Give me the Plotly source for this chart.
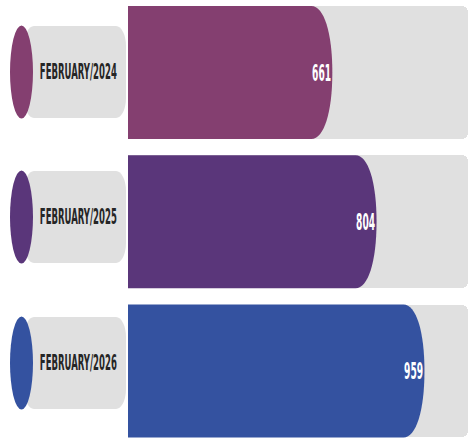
import plotly.graph_objects as go

# ---- data ----
categories = ["FEBRUARY/2024", "FEBRUARY/2025", "FEBRUARY/2026"]
values = [661, 804, 959]
colors = ["#843F70", "#5A367A", "#3452A0"]
track_max = 1100

# ---- geometry / style ----
W, H = 469, 438
x_range = [0, 1103]
plot_left = 128
px_per_unit = (W - plot_left) / (x_range[1] - x_range[0])
y_pos = [-i for i in range(len(categories))]
y_range = [-2.449, 0.486]
bar_w = 0.891
half = bar_w / 2
cap = 21 / px_per_unit          # horizontal radius of the rounded end (data units)
k = 0.60                        # bezier factor for the rounded end

label_centers_px = [72, 217, 363]
font_narrow = "DejaVu Sans Condensed, DejaVu Sans, sans-serif"

fig = go.Figure()

# background tracks
fig.add_trace(go.Bar(
    x=[track_max] * len(categories), y=y_pos, orientation="h", width=bar_w,
    marker=dict(color="#E0E0E0", cornerradius=6, line=dict(width=0)),
    hoverinfo="skip", showlegend=False,
))


def px(xp):
    return xp / W


def py(yp):
    return 1 - yp / H


shapes = []
annotations = []
for cat, v, c, yc, lc in zip(categories, values, colors, y_pos, label_centers_px):
    top, bot = yc + half, yc - half
    xs = v - cap
    path = (f"M 0,{top} L {xs},{top} "
            f"C {xs + k * cap},{top} {v},{yc + k * half} {v},{yc} "
            f"C {v},{yc - k * half} {xs + k * cap},{bot} {xs},{bot} "
            f"L 0,{bot} Z")
    shapes.append(dict(type="path", xref="x", yref="y", path=path,
                       fillcolor=c, line=dict(width=0), layer="above"))
    annotations.append(dict(x=v, y=yc, xref="x", yref="y", text=str(v),
                            showarrow=False, xanchor="center", yanchor="middle",
                            xshift=-11,
                            font=dict(family=font_narrow, size=23, color="white",
                                      weight="bold")))

    # left label: pill + colored ellipse + text (pixel layout -> paper coords)
    x0, x1 = 24, 126
    t, b = lc - 46, lc + 46
    rx, ry = 10, 20
    pill = (f"M {px(x0 + rx)},{py(t)} L {px(x1 - rx)},{py(t)} "
            f"C {px(x1 - rx * 0.45)},{py(t)} {px(x1)},{py(t + ry * 0.45)} {px(x1)},{py(t + ry)} "
            f"L {px(x1)},{py(b - ry)} "
            f"C {px(x1)},{py(b - ry * 0.45)} {px(x1 - rx * 0.45)},{py(b)} {px(x1 - rx)},{py(b)} "
            f"L {px(x0 + rx)},{py(b)} "
            f"C {px(x0 + rx * 0.45)},{py(b)} {px(x0)},{py(b - ry * 0.45)} {px(x0)},{py(b - ry)} "
            f"L {px(x0)},{py(t + ry)} "
            f"C {px(x0)},{py(t + ry * 0.45)} {px(x0 + rx * 0.45)},{py(t)} {px(x0 + rx)},{py(t)} Z")
    shapes.append(dict(type="path", xref="paper", yref="paper", path=pill,
                       fillcolor="#E0E0E0", line=dict(width=0), layer="above"))
    shapes.append(dict(type="circle", xref="paper", yref="paper",
                       x0=px(10), x1=px(33), y0=py(lc + 46.5), y1=py(lc - 46.5),
                       fillcolor=c, line=dict(width=0), layer="above"))
    annotations.append(dict(x=px(78.5), y=py(lc), xref="paper", yref="paper",
                            text=cat, showarrow=False,
                            xanchor="center", yanchor="middle",
                            font=dict(family=font_narrow, size=21, color="#262626",
                                      weight="bold")))

fig.update_layout(
    width=W, height=H,
    margin=dict(l=0, r=0, t=0, b=0),
    paper_bgcolor="white", plot_bgcolor="white",
    xaxis=dict(domain=[plot_left / W, 1], range=x_range, visible=False, fixedrange=True),
    yaxis=dict(range=y_range, visible=False, fixedrange=True),
    shapes=shapes, annotations=annotations,
    showlegend=False, bargap=0,
)

post = """
document.body.style.margin = '0';
document.documentElement.style.overflow = 'hidden';
var gd = document.getElementById('{plot_id}');
function squeezeText() {
  gd.querySelectorAll('text.annotation-text').forEach(function (t) {
    var s = t.textContent;
    var L = /^[0-9]+$/.test(s) ? 19 : 77;
    t.setAttribute('textLength', L);
    t.setAttribute('lengthAdjust', 'spacingAndGlyphs');
  });
}
squeezeText();
gd.on('plotly_afterplot', squeezeText);
"""

fig.write_html("out.html", config={"displayModeBar": False}, post_script=post)
